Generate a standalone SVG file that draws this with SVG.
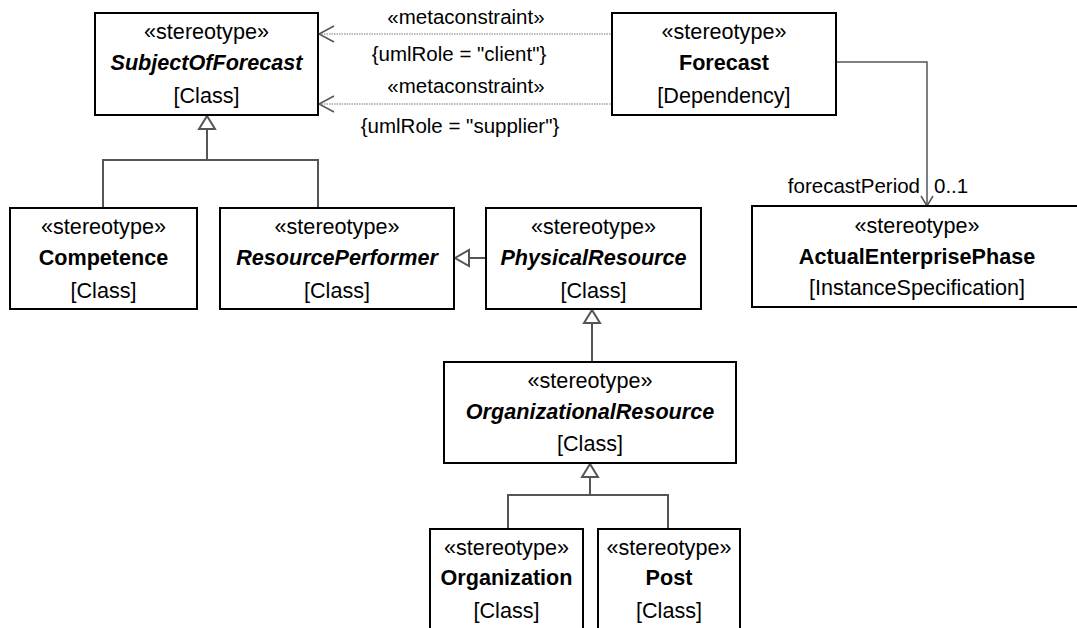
<svg xmlns="http://www.w3.org/2000/svg" width="1077" height="628" viewBox="0 0 1077 628">
<defs>
<style>
.box{fill:#fff;stroke:#000;stroke-width:2}
text{font-family:"Liberation Sans",Arial,sans-serif;font-size:21.6px;fill:#000;text-anchor:middle}
.b{font-weight:bold}
.bi{font-weight:bold;font-style:italic}
.lbl{font-size:20.5px}
.gen{fill:none;stroke:#555;stroke-width:2}
.tri{fill:#fff;stroke:#555;stroke-width:2}
.dot{fill:none;stroke:#777;stroke-width:1.2;stroke-dasharray:1.5 1}
.arr{fill:none;stroke:#555;stroke-width:1.5}
</style>
</defs>
<rect width="1077" height="628" fill="#fff"/>
<g id="connectors">
  <line class="dot" x1="319" y1="34" x2="612" y2="34"/>
  <polyline class="arr" points="334,26 319,34 334,42"/>
  <line class="dot" x1="319" y1="104" x2="612" y2="104"/>
  <polyline class="arr" points="334,96 319,104 334,112"/>
  <text class="lbl" x="466" y="24">«metaconstraint»</text>
  <text class="lbl" x="459" y="61">{umlRole = "client"}</text>
  <text class="lbl" x="466" y="93">«metaconstraint»</text>
  <text class="lbl" x="460" y="133">{umlRole = "supplier"}</text>
  <polyline class="arr" points="836,62 927,62 927,206"/>
  <polyline class="arr" points="921,196 927,206 933,196"/>
  <text class="lbl" x="920" y="193" style="text-anchor:end">forecastPeriod</text>
  <text class="lbl" x="934" y="193" style="text-anchor:start">0..1</text>
  <polyline class="gen" points="103,208 103,160 318,160 318,208"/>
  <line class="gen" x1="207" y1="160" x2="207" y2="129"/>
  <polygon class="tri" points="207,116 199,129 215,129"/>
  <line class="gen" x1="486" y1="258" x2="469" y2="258"/>
  <polygon class="tri" points="455,258 469,250 469,266"/>
  <line class="gen" x1="592" y1="362" x2="592" y2="323"/>
  <polygon class="tri" points="592,310 584,323 600,323"/>
  <polyline class="gen" points="508,529 508,495 668,495 668,529"/>
  <line class="gen" x1="590" y1="495" x2="590" y2="477"/>
  <polygon class="tri" points="590,464 582,477 598,477"/>
</g>
<g id="SubjectOfForecast">
  <rect class="box" x="95" y="13" width="223" height="102"/>
  <text x="206.5" y="39">«stereotype»</text>
  <text class="bi" x="206.5" y="70">SubjectOfForecast</text>
  <text x="206.5" y="103">[Class]</text>
</g>
<g id="Forecast">
  <rect class="box" x="612" y="13" width="224" height="102"/>
  <text x="724" y="39">«stereotype»</text>
  <text class="b" x="724" y="70">Forecast</text>
  <text x="724" y="103">[Dependency]</text>
</g>
<g id="ActualEnterprisePhase">
  <rect class="box" x="752" y="206" width="340" height="101"/>
  <text x="917" y="233">«stereotype»</text>
  <text class="b" x="917" y="264">ActualEnterprisePhase</text>
  <text x="917" y="295">[InstanceSpecification]</text>
</g>
<g id="Competence">
  <rect class="box" x="10" y="208" width="187" height="101"/>
  <text x="103.5" y="234">«stereotype»</text>
  <text class="b" x="103.5" y="265">Competence</text>
  <text x="103.5" y="298">[Class]</text>
</g>
<g id="ResourcePerformer">
  <rect class="box" x="220" y="208" width="234" height="101"/>
  <text x="337" y="234">«stereotype»</text>
  <text class="bi" x="337" y="265">ResourcePerformer</text>
  <text x="337" y="298">[Class]</text>
</g>
<g id="PhysicalResource">
  <rect class="box" x="486" y="208" width="215" height="101"/>
  <text x="593.5" y="234">«stereotype»</text>
  <text class="bi" x="593.5" y="265">PhysicalResource</text>
  <text x="593.5" y="298">[Class]</text>
</g>
<g id="OrganizationalResource">
  <rect class="box" x="444" y="362" width="292" height="101"/>
  <text x="590" y="388">«stereotype»</text>
  <text class="bi" x="590" y="419">OrganizationalResource</text>
  <text x="590" y="451">[Class]</text>
</g>
<g id="Organization">
  <rect class="box" x="430" y="529" width="153" height="110"/>
  <text x="506.5" y="555">«stereotype»</text>
  <text class="b" x="506.5" y="585">Organization</text>
  <text x="506.5" y="618">[Class]</text>
</g>
<g id="Post">
  <rect class="box" x="598" y="529" width="142" height="110"/>
  <text x="669" y="555">«stereotype»</text>
  <text class="b" x="669" y="585">Post</text>
  <text x="669" y="618">[Class]</text>
</g>
</svg>
